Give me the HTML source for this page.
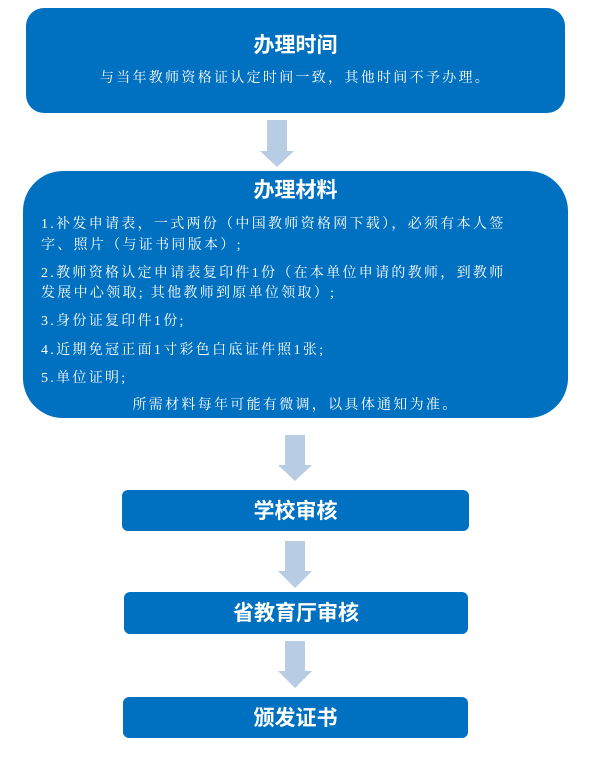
<!DOCTYPE html>
<html><head><meta charset="utf-8"><style>
body{margin:0;width:600px;height:768px;background:#fff;position:relative;overflow:hidden}
.b{position:absolute;background:#0070c0;color:#fff}
.t{position:absolute;left:0;right:0;text-align:center;font:bold 21px "Liberation Sans","Noto Sans CJK SC",sans-serif;color:#fff;line-height:24px}
.l{position:absolute;white-space:nowrap;font:14px "Liberation Serif","Noto Serif CJK SC",serif;letter-spacing:2.3px;color:#fff;line-height:16px}
svg{position:absolute;left:0;top:0}
</style></head><body>
<div class="b" style="left:26px;top:8px;width:539px;height:105px;border-radius:18px">
<div class="t" style="top:26px">办理时间</div>
<div class="l" style="left:0;right:0;text-align:center;top:63px">与当年教师资格证认定时间一致，其他时间不予办理。</div>
</div>
<div class="b" style="left:23px;top:171px;width:545px;height:247px;border-radius:40px">
<div class="t" style="top:8px">办理材料</div>
<div class="l" style="left:18px;top:46px">1.补发申请表，一式两份（中国教师资格网下载），必须有本人签</div>
<div class="l" style="left:18px;top:67px">字、照片（与证书同版本）;</div>
<div class="l" style="left:18px;top:95px">2.教师资格认定申请表复印件1份（在本单位申请的教师，到教师</div>
<div class="l" style="left:18px;top:115px">发展中心领取; 其他教师到原单位领取）;</div>
<div class="l" style="left:18px;top:143px">3.身份证复印件1份;</div>
<div class="l" style="left:18px;top:172px">4.近期免冠正面1寸彩色白底证件照1张;</div>
<div class="l" style="left:18px;top:200px">5.单位证明;</div>
<div class="l" style="left:0;right:0;text-align:center;top:227px">所需材料每年可能有微调，以具体通知为准。</div>
</div>
<div class="b" style="left:122px;top:490px;width:347px;height:41px;border-radius:6px"><div class="t" style="top:10px">学校审核</div></div>
<div class="b" style="left:124px;top:592px;width:344px;height:42px;border-radius:6px"><div class="t" style="top:10px">省教育厅审核</div></div>
<div class="b" style="left:123px;top:697px;width:345px;height:41px;border-radius:6px"><div class="t" style="top:10px">颁发证书</div></div>
<svg width="600" height="768" fill="#b8cce4">
<polygon points="267,120 287,120 287,151 294,151 277,167 260,151 267,151"/>
<polygon points="285,435 305,435 305,465 312,465 295,481 278,465 285,465"/>
<polygon points="285,541 305,541 305,571 312,571 295,588 278,571 285,571"/>
<polygon points="285,641 305,641 305,671 312,671 295,688 278,671 285,671"/>
</svg>
</body></html>
